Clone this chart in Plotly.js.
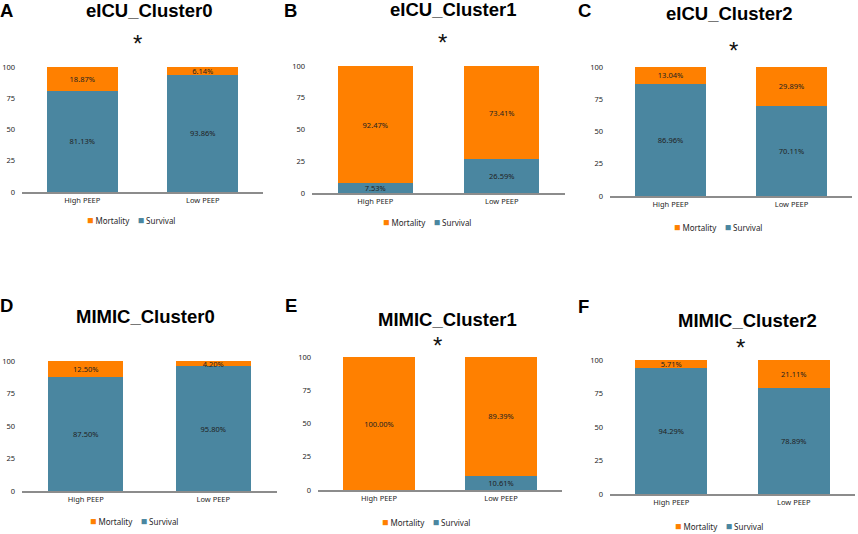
<!DOCTYPE html>
<html>
<head>
<meta charset="utf-8">
<script src="https://cdn.plot.ly/plotly-3.0.1.min.js"></script>
<style>html,body{margin:0;padding:0;background:#fff;}#chart{width:858px;height:534px;}</style>
</head>
<body>
<div id="chart"></div>
<script>
// ---- data ----
const categories = ['High PEEP', 'Low PEEP'];
const seriesNames = ['Mortality', 'Survival'];
const panelTitles = ['eICU_Cluster0', 'eICU_Cluster1', 'eICU_Cluster2', 'MIMIC_Cluster0', 'MIMIC_Cluster1', 'MIMIC_Cluster2'];
const panelLetters = ['A', 'B', 'C', 'D', 'E', 'F'];
const significant = [true, true, true, false, true, true];
const yTickValues = [0, 25, 50, 75, 100];

const survivalEicu0 = [81.13, 93.86];
const mortalityEicu0 = [18.87, 6.14];
const survivalEicu1 = [7.53, 26.59];
const mortalityEicu1 = [92.47, 73.41];
const survivalEicu2 = [86.96, 70.11];
const mortalityEicu2 = [13.04, 29.89];
const survivalMimic0 = [87.50, 95.80];
const mortalityMimic0 = [12.50, 4.20];
const survivalMimic1 = [0, 10.61];
const mortalityMimic1 = [100.00, 89.39];
const survivalMimic2 = [94.29, 78.89];
const mortalityMimic2 = [5.71, 21.11];

const survivalSets = [survivalEicu0, survivalEicu1, survivalEicu2, survivalMimic0, survivalMimic1, survivalMimic2];
const mortalitySets = [mortalityEicu0, mortalityEicu1, mortalityEicu2, mortalityMimic0, mortalityMimic1, mortalityMimic2];

// ---- styling / layout geometry (pixels) ----
const W = 858, H = 534;
const ORANGE = '#FF8000', TEAL = '#4A86A0';
const fx = p => p / W;
const fy = p => 1 - p / H;

const boxes = [
  {x0: 22,  x1: 263, y0: 67,  y1: 192, tx: 148.5, ty: 10.5, lx: 0,   ly: 10.5, sx: 137, sy: 39,  gx: 131,   gy: 220},
  {x0: 312, x1: 565, y0: 66,  y1: 193, tx: 453.5, ty: 9.5,  lx: 284, ly: 10.5, sx: 442, sy: 38,  gx: 427,   gy: 222},
  {x0: 610, x1: 852, y0: 67,  y1: 196, tx: 728.5, ty: 14,   lx: 578, ly: 10.5, sx: 733, sy: 45,  gx: 718,   gy: 227},
  {x0: 22,  x1: 277, y0: 361, y1: 491, tx: 145,   ty: 316,  lx: 0,   ly: 305,  sx: 0,   sy: 0,   gx: 134,   gy: 520.5},
  {x0: 318, x1: 562, y0: 357, y1: 490, tx: 447.5, ty: 319.5,lx: 285, ly: 305,  sx: 437, sy: 340, gx: 425.5, gy: 522},
  {x0: 610, x1: 855, y0: 360, y1: 494, tx: 747,   ty: 320,  lx: 578, ly: 306,  sx: 740, sy: 342, gx: 719,   gy: 525.5}
];

const labelFont = {family: 'Noto Sans, Open Sans, sans-serif', size: 7.5, color: '#222222'};
const tickFont = {family: 'Noto Sans, Open Sans, sans-serif', size: 7.5, color: '#262626'};
const titleFont = {family: 'Arial, Liberation Sans, sans-serif', size: 18.5, color: '#000000', weight: 'bold'};

const fmt = v => v > 0 ? v.toFixed(2) + '%' : '';

const traces = [];
const layout = {
  width: W, height: H,
  margin: {l: 0, r: 0, t: 0, b: 0},
  paper_bgcolor: '#ffffff', plot_bgcolor: '#ffffff',
  barmode: 'stack', bargap: 0.41,
  showlegend: false,
  annotations: []
};

boxes.forEach((b, i) => {
  const n = i + 1;
  const xa = n === 1 ? 'x' : 'x' + n;
  const ya = n === 1 ? 'y' : 'y' + n;
  const xKey = n === 1 ? 'xaxis' : 'xaxis' + n;
  const yKey = n === 1 ? 'yaxis' : 'yaxis' + n;

  traces.push({
    type: 'bar', name: seriesNames[1], x: categories, y: survivalSets[i],
    xaxis: xa, yaxis: ya, marker: {color: TEAL, line: {width: 0}},
    text: survivalSets[i].map(fmt), textposition: 'inside', insidetextanchor: 'middle',
    constraintext: 'none', textfont: labelFont, insidetextfont: labelFont, hoverinfo: 'none'
  });
  traces.push({
    type: 'bar', name: seriesNames[0], x: categories, y: mortalitySets[i],
    xaxis: xa, yaxis: ya, marker: {color: ORANGE, line: {width: 0}},
    text: mortalitySets[i].map(fmt), textposition: 'inside', insidetextanchor: 'middle',
    constraintext: 'none', textfont: labelFont, insidetextfont: labelFont, hoverinfo: 'none'
  });

  layout[xKey] = {
    domain: [fx(b.x0), fx(b.x1)], anchor: ya, type: 'category',
    showline: true, linecolor: '#8c8c8c', linewidth: 1.5,
    ticks: '', showgrid: false, zeroline: false, tickfont: tickFont, fixedrange: true
  };
  layout[yKey] = {
    domain: [fy(b.y1), fy(b.y0)], anchor: xa, range: [0, 100],
    tickvals: yTickValues, showline: false, showgrid: false, zeroline: false,
    ticks: '', tickfont: tickFont, ticklabelstandoff: 6, fixedrange: true
  };

  layout.annotations.push({
    xref: 'paper', yref: 'paper', x: fx(b.tx), y: fy(b.ty), xanchor: 'center', yanchor: 'middle',
    text: panelTitles[i], showarrow: false, font: titleFont
  });
  layout.annotations.push({
    xref: 'paper', yref: 'paper', x: fx(b.lx), y: fy(b.ly), xanchor: 'left', yanchor: 'middle',
    text: panelLetters[i], showarrow: false, font: titleFont, xshift: -2
  });
  if (significant[i]) {
    layout.annotations.push({
      xref: 'paper', yref: 'paper', x: fx(b.sx), y: fy(b.sy + 5), xanchor: 'center', yanchor: 'middle',
      text: '*', showarrow: false, font: {family: 'Arial, Liberation Sans, sans-serif', size: 24, color: '#111111'}
    });
  }
  const sq = c => '<span style="color:' + c + ';font-size:10.5px">\u25A0</span>';
  layout.annotations.push({
    xref: 'paper', yref: 'paper', x: fx(b.gx), y: fy(b.gy), xanchor: 'center', yanchor: 'middle',
    text: sq(ORANGE) + '\u00A0' + seriesNames[0] + '\u00A0\u00A0\u00A0\u00A0' + sq(TEAL) + '\u00A0' + seriesNames[1],
    showarrow: false, font: {family: 'Noto Sans, Open Sans, sans-serif', size: 8, color: '#262626'}
  });
});

Plotly.newPlot('chart', traces, layout, {staticPlot: true, displayModeBar: false});
</script>
</body>
</html>
